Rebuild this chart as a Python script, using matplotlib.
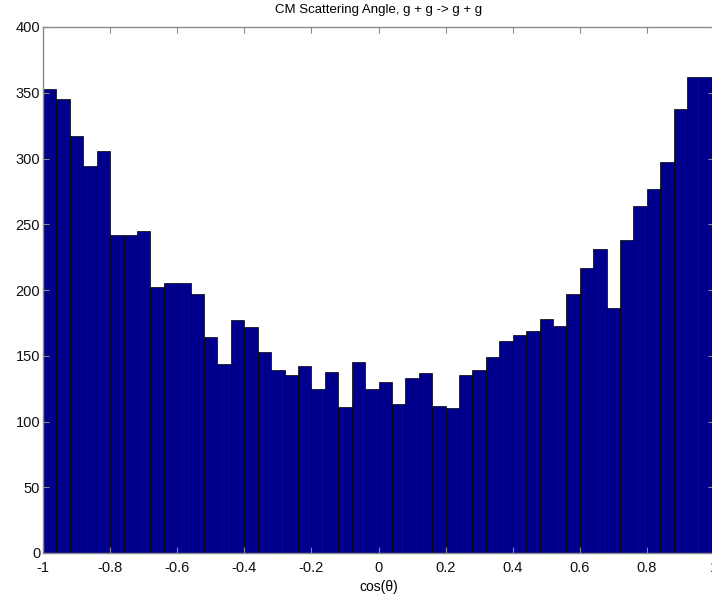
import numpy as np
import matplotlib
matplotlib.use("Agg")
import matplotlib.pyplot as plt

plt.rcParams['font.family'] = ['Liberation Sans', 'DejaVu Sans']

# histogram of cos(theta), 50 bins between -1 and 1
bin_edges = np.linspace(-1, 1, 51)
counts = [353, 345, 317, 294, 306, 242, 242, 245, 202, 205,
          205, 197, 164, 144, 177, 172, 153, 139, 135, 142,
          125, 138, 111, 145, 125, 130, 113, 133, 137, 112,
          110, 135, 139, 149, 161, 166, 169, 178, 173, 197,
          217, 231, 186, 238, 264, 277, 297, 338, 362, 362]
x_ticks = [-1, -0.8, -0.6, -0.4, -0.2, 0, 0.2, 0.4, 0.6, 0.8, 1]
x_tick_labels = ['-1', '-0.8', '-0.6', '-0.4', '-0.2', '0', '0.2', '0.4', '0.6', '0.8', '1']
y_ticks = [0, 50, 100, 150, 200, 250, 300, 350, 400]


def plot_hist():
    fig = plt.figure(figsize=(7.12, 6.0), dpi=100)
    ax = fig.add_axes([43 / 712, 47 / 600, 671 / 712, 526 / 600])

    ax.bar(bin_edges[:-1], counts, width=np.diff(bin_edges), align='edge',
           color='#00008C', edgecolor='#000000', linewidth=0.5)

    ax.set_xlim(-1, 1)
    ax.set_ylim(0, 400)
    ax.set_xticks(x_ticks)
    ax.set_xticklabels(x_tick_labels)
    ax.set_yticks(y_ticks)

    for side in ['top', 'right', 'left', 'bottom']:
        ax.spines[side].set_color('#8a8a8a')
        ax.spines[side].set_linewidth(1.0)
    ax.tick_params(direction='in', length=4, color='#8a8a8a', labelsize=10.5,
                   top=True, right=True, labelcolor='#111111')
    ax.tick_params(axis='x', pad=6)
    ax.tick_params(axis='y', pad=2)

    ax.set_title('CM Scattering Angle, g + g -> g + g', fontsize=9.5, pad=10)
    ax.set_xlabel('cos(\u03b8)', fontsize=10, labelpad=3)

    fig.savefig('out.png', dpi=100)


if __name__ == "__main__":
    plot_hist()
